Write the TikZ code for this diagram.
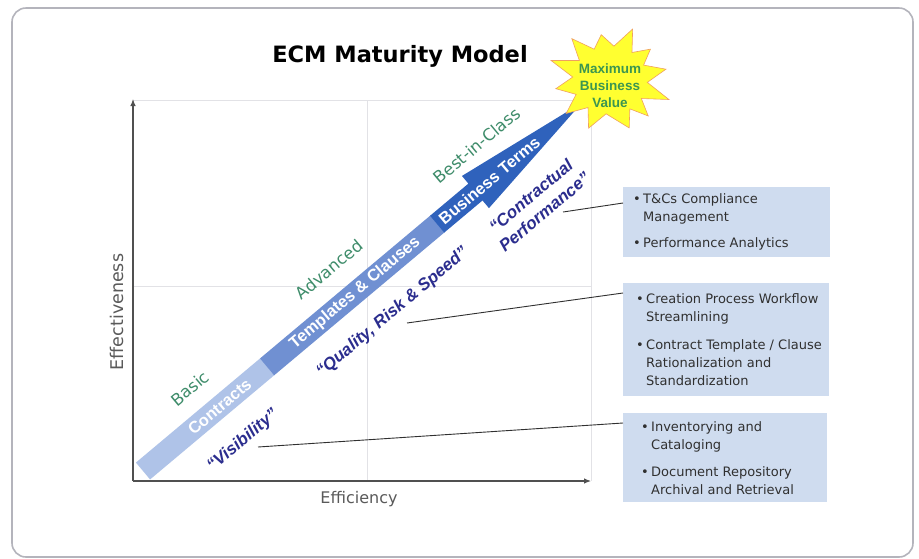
\documentclass[tikz,border=0pt]{standalone}
\usepackage{fontspec}
\setmainfont{DejaVu Sans}
\newfontfamily\arialfont{Liberation Sans}
\usetikzlibrary{arrows.meta}

\definecolor{framegray}{HTML}{B4B4BC}
\definecolor{gridgray}{HTML}{E2E2E6}
\definecolor{axisgray}{HTML}{505050}
\definecolor{labelgray}{HTML}{5A5A5A}
\definecolor{contractfill}{HTML}{AFC3E8}
\definecolor{templatefill}{HTML}{7090D2}
\definecolor{termfill}{HTML}{2F62BC}
\definecolor{stagegreen}{HTML}{3E8C6A}
\definecolor{quoteblue}{HTML}{2B2D8E}
\definecolor{boxblue}{HTML}{CFDCEF}
\definecolor{boxgray}{HTML}{303030}
\definecolor{leadergray}{HTML}{303030}
\definecolor{staryellow}{HTML}{FFFF30}
\definecolor{staredge}{HTML}{F0A060}
\definecolor{valuegreen}{HTML}{3C9650}

\newcommand\bulmark{\makebox[10pt][l]{•}}
\newcommand\bulhang{\hspace*{10pt}}

\begin{document}
\begin{tikzpicture}[x=1pt,y=-1pt,
  frame/.style={draw=framegray, line width=1.6pt, rounded corners=14pt},
  gridline/.style={draw=gridgray, line width=0.7pt},
  axis/.style={draw=axisgray, line width=1.1pt, -{Latex[length=7pt,width=5.5pt]}},
  axislabel/.style={text=labelgray, inner sep=0},
  bandtext/.style={text=white, font=\arialfont\bfseries\fontsize{16.5}{16.5}\selectfont, transform shape, inner sep=0},
  stagetext/.style={text=stagegreen, font=\fontsize{16.5}{16.5}\selectfont, transform shape, inner sep=0},
  quotetext/.style={text=quoteblue, font=\arialfont\bfseries\itshape\fontsize{17}{21}\selectfont, transform shape, align=center, inner sep=0},
  infobox/.style={fill=boxblue, inner sep=0, anchor=north west},
  boxtext/.style={text=boxgray, font=\fontsize{13}{18}\selectfont, align=left, inner sep=0, anchor=west},
  leader/.style={draw=leadergray, line width=0.9pt},
  starshape/.style={fill=staryellow, draw=staredge, line width=0.6pt, line join=miter}
]
\useasboundingbox (0,0) rectangle (919,558);
\fill[white] (0,0) rectangle (919,558);

% outer frame
\draw[frame] (12,8) rectangle (913,557);

% title
\node[font=\bfseries\fontsize{22.5}{22.5}\selectfont, inner sep=0] (title) at (400,56) {ECM Maturity Model};

% quadrant grid
\coordinate (origin) at (133,481);
\coordinate (ytop) at (133,99);
\coordinate (xend) at (591,481);
\coordinate (gridtl) at (133,100);
\coordinate (gridtr) at (591,100);
\coordinate (gridml) at (133,286);
\coordinate (gridmr) at (591,286);
\coordinate (gridmt) at (367,100);
\coordinate (gridmb) at (367,481);
\draw[gridline] (gridtl) -- (gridtr) -- (xend);
\draw[gridline] (gridml) -- (gridmr);
\draw[gridline] (gridmt) -- (gridmb);

% axes
\draw[axis] (origin) -- (ytop);
\draw[axis] (origin) -- (xend);
\node[axislabel, font=\fontsize{16}{16}\selectfont] (xlabel) at (359,499) {Efficiency};
\node[axislabel, font=\fontsize{17.5}{17.5}\selectfont, rotate=90] (ylabel) at (117,312) {Effectiveness};

% maturity arrow, drawn along its own axis
\begin{scope}[shift={(143,471)}, rotate=40, x=1pt, y=1pt]
  \fill[contractfill] (0,-11) rectangle (162.5,11);
  \fill[templatefill] (162,-11) rectangle (384.5,11);
  \fill[termfill] (384,-11) -- (434,-11) -- (434,-21) -- (573,0) -- (434,21) -- (434,11) -- (384,11) -- cycle;
  \node[bandtext] (contracts) at (100,0) {Contracts};
  \node[bandtext] (templates) at (277,0) {Templates \& Clauses};
  \node[bandtext] (terms) at (452,0) {Business Terms};
  \node[stagetext] (basic) at (89,33) {Basic};
  \node[stagetext] (advanced) at (272,35) {Advanced};
  \node[stagetext] (bestclass) at (465,35) {Best-in-Class};
  \node[quotetext] (visibility) at (96,-41) {“Visibility”};
  \node[quotetext] (quality) at (293,-39) {“Quality, Risk \& Speed”};
  \node[quotetext] (performance) at (474,-49) {“Contractual\\Performance”};
\end{scope}

% burst at the arrow tip
\begin{scope}[shift={(610,80)}, xscale=1.1]
  \filldraw[starshape] (-68:55) -- (-84:34) -- (-100:46) -- (-115:34) -- (-130:54) -- (-145:34)
    -- (-160:57) -- (-175:34) -- (170:50) -- (155:34) -- (140:52) -- (126:34) -- (112:52)
    -- (96:34) -- (70:51) -- (58:34) -- (46:50) -- (33:34) -- (20:57) -- (4:34) -- (-12:52)
    -- (-26:34) -- (-40:48) -- (-54:34) -- cycle;
\end{scope}
\node[text=valuegreen, font=\arialfont\bfseries\fontsize{13.5}{17}\selectfont, align=center, inner sep=0] (maxvalue) at (610,86) {Maximum\\Business\\Value};

% detail boxes
\node[infobox, minimum width=207pt, minimum height=70pt] (box1) at (623,187) {};
\node[infobox, minimum width=206pt, minimum height=113pt] (box2) at (623,283) {};
\node[infobox, minimum width=204pt, minimum height=89pt] (box3) at (623,413) {};

\node[boxtext] (box1text) at ([xshift=10pt]box1.west)
  {\bulmark T\&Cs Compliance\\\bulhang Management\\[8pt]\bulmark Performance Analytics};
\node[boxtext] (box2text) at ([xshift=13pt]box2.west)
  {\bulmark Creation Process Workflow\\\bulhang Streamlining\\[10pt]\bulmark Contract Template / Clause\\\bulhang Rationalization and\\\bulhang Standardization};
\node[boxtext] (box3text) at ([xshift=18pt]box3.west)
  {\bulmark Inventorying and\\\bulhang Cataloging\\[9pt]\bulmark Document Repository\\\bulhang Archival and Retrieval};

% leader lines
\coordinate (perf-lead) at (563,212);
\coordinate (qual-lead) at (407,323);
\coordinate (vis-lead) at (258,447);
\draw[leader] (perf-lead) -- ([yshift=-16pt]box1.north west);
\draw[leader] (qual-lead) -- ([yshift=-10pt]box2.north west);
\draw[leader] (vis-lead) -- ([yshift=-10pt]box3.north west);
\end{tikzpicture}
\end{document}
